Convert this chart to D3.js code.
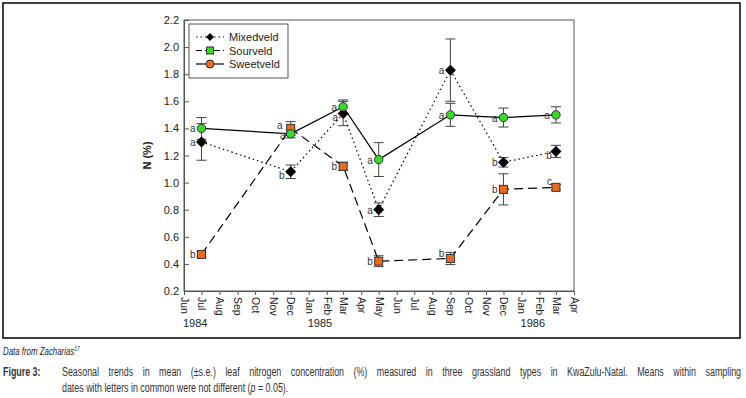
<!DOCTYPE html>
<html><head><meta charset="utf-8">
<script src="https://cdn.jsdelivr.net/npm/d3@7"></script>
<style>
html,body{margin:0;padding:0;background:#fff;}
svg{display:block;font-family:"Liberation Sans",Arial,sans-serif;}
</style></head>
<body>
<svg id="chart" width="746" height="398"></svg>
<script>
// ---- data ----
const sampleDates = ["1984-07","1984-12","1985-03","1985-05","1985-09","1985-12","1986-03"];
const mixedveld   = [1.30, 1.08, 1.51, 0.80, 1.83, 1.15, 1.23];
const mixedSE     = [0.135,0.05, 0.09, 0.05, 0.23, 0.035,0.045];
const mixedLetters= ["a","b","a","a","a","b","b"];
const sourveld    = [0.47, 1.40, 1.12, 0.42, 0.44, 0.95, 0.965];
const sourSE      = [0.02, 0.05, 0.03, 0.04, 0.045,0.115,0.02];
const sourLetters = ["b","a","b","b","b","b","c"];
const sweetveld   = [1.40, 1.36, 1.56, 1.17, 1.50, 1.48, 1.50];
const sweetSE     = [0.08, 0.03, 0.05, 0.125,0.085,0.07, 0.06];
const sweetLetters= ["a","a","a","a","a","a","a"];
const yTicks = [0.2,0.4,0.6,0.8,1.0,1.2,1.4,1.6,1.8,2.0,2.2];
const monthNames = ["Jan","Feb","Mar","Apr","May","Jun","Jul","Aug","Sep","Oct","Nov","Dec"];
const yearLabels = [["1984","1984-06"],["1985","1985-01"],["1986","1986-01"]];
const legendNames = ["Mixedveld","Sourveld","Sweetveld"];
const captionSource = "Data from Zacharias";
const captionRef = "17";
const captionLabel = "Figure 3:";
const captionLine1 = "Seasonal trends in mean (\u00b1s.e.) leaf nitrogen concentration (%) measured in three grassland types in KwaZulu-Natal. Means within sampling";
const captionLine2a = "dates with letters in common were not different (";
const captionLine2b = "p";
const captionLine2c = " = 0.05).";

// ---- layout ----
const svg = d3.select("#chart");
const L = 184, R = 574, T = 20, B = 291;
const parse = d3.utcParse("%Y-%m");
const x = d3.scaleUtc().domain([parse("1984-06"), parse("1986-04")]).range([L, R]);
const y = d3.scaleLinear().domain([0.2, 2.2]).range([B, T]);
const months = d3.utcMonth.range(parse("1984-06"), d3.utcMonth.offset(parse("1986-04"),1));
const mx = s => x(parse(s));

// outer frame
svg.append("rect").attr("x",3).attr("y",3).attr("width",737).attr("height",335)
  .attr("fill","none").attr("stroke","#000").attr("stroke-width",1.5);

// plot box
svg.append("rect").attr("x",L).attr("y",T).attr("width",R-L).attr("height",B-T)
  .attr("fill","none").attr("stroke","#555").attr("stroke-width",1);

// y axis (ticks inward)
const yAxis = d3.axisRight(y).tickValues(yTicks).tickSize(5).tickFormat(d3.format(".1f"));
const yg = svg.append("g").attr("transform",`translate(${L},0)`).call(yAxis);
yg.select(".domain").attr("stroke","#555");
yg.selectAll(".tick line").attr("stroke","#555");
yg.selectAll(".tick text").attr("x",-5).attr("text-anchor","end")
  .attr("font-size",11).attr("fill","#222").attr("font-family","Liberation Sans, Arial, sans-serif");

// x axis (ticks outward)
const xAxis = d3.axisBottom(x).tickValues(months).tickSize(4).tickFormat(d => monthNames[d.getUTCMonth()]);
const xg = svg.append("g").attr("transform",`translate(0,${B})`).call(xAxis);
xg.select(".domain").attr("stroke","#555");
xg.selectAll(".tick line").attr("stroke","#555");
xg.selectAll(".tick text")
  .attr("transform","rotate(90)").attr("x",6).attr("y",0).attr("dy","0.35em")
  .attr("text-anchor","start").attr("font-size",10.5).attr("fill","#222")
  .attr("font-family","Liberation Sans, Arial, sans-serif");

// year labels
svg.selectAll("text.year").data(yearLabels).join("text").attr("class","year")
  .attr("x",d => mx(d[1]) - 1).attr("y",327).attr("font-size",11).attr("fill","#222")
  .text(d => d[0]);

// y title
svg.append("text").attr("transform",`translate(151,${(T+B)/2}) rotate(-90)`)
  .attr("text-anchor","middle").attr("font-size",11).attr("font-weight","bold").attr("fill","#222")
  .text("N (%)");

// series
const GREEN = "#33dd22", ORANGE = "#ee6a1e";
function build(vals, se, letters){
  return sampleDates.map((d,i)=>({x:mx(d), v:vals[i], se:se[i], l:letters[i], i}));
}
const series = [
  {name:"mixed", data:build(mixedveld,mixedSE,mixedLetters), dash:"1.5,3", shape:"diamond", fill:"#000"},
  {name:"sour", data:build(sourveld,sourSE,sourLetters), dash:"9,5", shape:"square", fill:ORANGE},
  {name:"sweet", data:build(sweetveld,sweetSE,sweetLetters), dash:null, shape:"circle", fill:GREEN}
];
const line = d3.line().x(d=>d.x).y(d=>y(d.v));

// error bars
series.forEach(s=>{
  const g = svg.append("g");
  s.data.forEach(d=>{
    const y1 = y(d.v+d.se), y2 = y(d.v-d.se);
    g.append("line").attr("x1",d.x).attr("x2",d.x).attr("y1",y1).attr("y2",y2).attr("stroke","#444").attr("stroke-width",1);
    [y1,y2].forEach(yy=>g.append("line").attr("x1",d.x-5).attr("x2",d.x+5).attr("y1",yy).attr("y2",yy).attr("stroke","#444").attr("stroke-width",1));
  });
});
// lines
series.forEach(s=>{
  svg.append("path").datum(s.data).attr("d",line).attr("fill","none")
    .attr("stroke","#000").attr("stroke-width",1.2)
    .attr("stroke-dasharray",s.dash);
});
function marker(g, shape, fill, cx, cy){
  if(shape==="diamond"){
    g.append("path").attr("d",`M${cx},${cy-5}L${cx+5},${cy}L${cx},${cy+5}L${cx-5},${cy}Z`).attr("fill",fill).attr("stroke","#000");
  } else if(shape==="square"){
    g.append("rect").attr("x",cx-4).attr("y",cy-4).attr("width",8).attr("height",8).attr("fill",fill).attr("stroke","#333").attr("stroke-width",1);
  } else {
    g.append("circle").attr("cx",cx).attr("cy",cy).attr("r",4.2).attr("fill",fill).attr("stroke","#333").attr("stroke-width",1);
  }
}
series.forEach(s=>{
  const g = svg.append("g");
  s.data.forEach(d=>marker(g, s.shape, s.fill, d.x, y(d.v)));
});

// significance letters (small nudges to avoid overlaps)
const nudge = {
  "mixed-1":[0,3], "mixed-2":[1,4], "mixed-6":[2,4],
  "sour-1":[-2,-3], "sour-4":[0,-5], "sour-6":[2,-6], "sweet-1":[1,1]
};
series.forEach(s=>{
  svg.selectAll(null).data(s.data).join("text")
    .attr("x",d=>d.x - 6 + ((nudge[s.name+"-"+d.i]||[0,0])[0]))
    .attr("y",d=>y(d.v) + 4 + ((nudge[s.name+"-"+d.i]||[0,0])[1]))
    .attr("text-anchor","end").attr("font-size",10).attr("fill","#333")
    .text(d=>d.l);
});

// legend
const lg = svg.append("g");
lg.append("rect").attr("x",189).attr("y",24).attr("width",99).attr("height",54)
  .attr("fill","#fff").attr("stroke","#555");
const legendStyle = [
  {dash:"1.5,3", shape:"diamond", fill:"#000"},
  {dash:"6,3", shape:"square", fill:GREEN},
  {dash:null, shape:"circle", fill:ORANGE}
];
legendNames.forEach((n,i)=>{
  const yy = 37 + i*13.5;
  lg.append("line").attr("x1",196).attr("x2",224).attr("y1",yy).attr("y2",yy)
    .attr("stroke","#000").attr("stroke-width",1.2).attr("stroke-dasharray",legendStyle[i].dash);
  const mg = lg.append("g");
  if(legendStyle[i].shape==="diamond"){
    mg.append("path").attr("d",`M210,${yy-4}L214,${yy}L210,${yy+4}L206,${yy}Z`).attr("fill","#000");
  } else if(legendStyle[i].shape==="square"){
    mg.append("rect").attr("x",206.5).attr("y",yy-3.5).attr("width",7).attr("height",7).attr("fill",legendStyle[i].fill).attr("stroke","#333");
  } else {
    mg.append("circle").attr("cx",210).attr("cy",yy).attr("r",4).attr("fill",legendStyle[i].fill).attr("stroke","#333");
  }
  lg.append("text").attr("x",229).attr("y",yy+4).attr("font-size",11).attr("fill","#222").text(n);
});

// captions (narrowed horizontally to mimic a condensed face)
const SX = 0.71;
const src = svg.append("text").attr("transform","translate(3,355) scale(0.75,1)")
  .attr("font-style","italic").attr("font-size",10.5).attr("fill","#222");
src.append("tspan").text(captionSource);
src.append("tspan").attr("font-size",6.5).attr("dy",-4).text(captionRef);

svg.append("text").attr("transform",`translate(3,376) scale(${SX},1)`).attr("font-weight","bold")
  .attr("font-size",12.5).attr("fill","#333").text(captionLabel);
const l1 = svg.append("text").attr("transform",`translate(62,376) scale(${SX},1)`).attr("font-size",12.5)
  .attr("fill","#333").text(captionLine1);
// justify line 1 across to x = 741 via word spacing
const natural = l1.node().getComputedTextLength();
const spaces = captionLine1.split(" ").length - 1;
const target = (741 - 62) / SX;
l1.attr("word-spacing", Math.max(0,(target - natural) / spaces));
const l2 = svg.append("text").attr("transform",`translate(62,392) scale(${SX},1)`).attr("font-size",12.5).attr("fill","#333");
l2.append("tspan").text(captionLine2a);
l2.append("tspan").attr("font-style","italic").text(captionLine2b);
l2.append("tspan").text(captionLine2c);
</script>
</body></html>
